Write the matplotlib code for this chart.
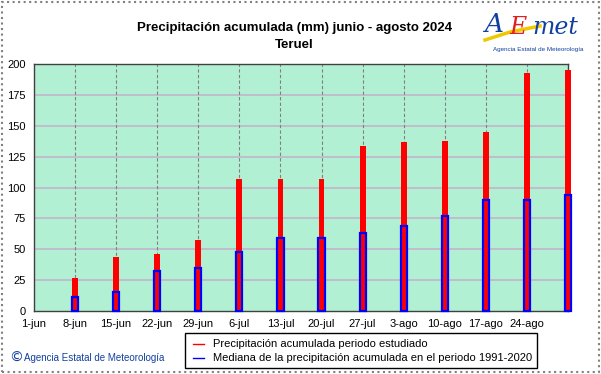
import matplotlib
matplotlib.use("Agg")
import matplotlib.pyplot as plt
from matplotlib.patches import Rectangle
from matplotlib.lines import Line2D
import numpy as np

plt.rcParams['font.family'] = ['Liberation Sans', 'DejaVu Sans']

tick_labels = ['1-jun', '8-jun', '15-jun', '22-jun', '29-jun', '6-jul', '13-jul',
               '20-jul', '27-jul', '3-ago', '10-ago', '17-ago', '24-ago']
bar_days = [7, 14, 21, 28, 35, 42, 49, 56, 63, 70, 77, 84, 91]
precip_2024 = [27, 43.5, 46, 57.5, 106.5, 106.5, 106.5, 133.5, 136.5, 138, 145, 193, 195]
median_1991_2020 = [11, 15.5, 32, 35, 48, 59.5, 59.5, 63.5, 68.5, 77, 89.5, 89.5, 94]

fig = plt.figure(figsize=(6.01, 3.74), dpi=100)
fig.patch.set_facecolor('white')
ax = fig.add_axes([34/601, 1-311/374, (568-34)/601, (311-64)/374])
ax.set_facecolor('#b2f0d4')

ax.set_xlim(0, 91)
ax.set_ylim(0, 200)
ax.set_yticks(np.arange(0, 201, 25))
ax.set_xticks(np.arange(len(tick_labels)) * 7)
ax.set_xticklabels(tick_labels, fontsize=8)
ax.tick_params(axis='y', labelsize=8, length=0, pad=6)
ax.tick_params(axis='x', length=0, pad=6)

for y in np.arange(25, 200, 25):
    ax.axhline(y, color='#c4b4cc', lw=1.2, zorder=1)
for x in np.arange(1, len(tick_labels)) * 7:
    ax.axvline(x, color='#808080', lw=0.8, ls=(0, (3, 2)), zorder=1)

red = ax.bar(bar_days, precip_2024, width=1.0, color='#ff0000', zorder=3)
blue = ax.bar(bar_days, median_1991_2020, width=1.05, facecolor='none',
              edgecolor='#0000ff', lw=1.6, zorder=4)
for p in list(red) + list(blue):
    p.set_clip_on(False)

for s in ax.spines.values():
    s.set_color('#404040')
    s.set_linewidth(1)

fig.text(0.49, 1-28/374, 'Precipitación acumulada (mm) junio - agosto 2024',
         ha='center', va='center', fontsize=9.5, fontweight='bold')
fig.text(0.49, 1-45/374, 'Teruel', ha='center', va='center', fontsize=9.5,
         fontweight='bold')

# logo approximation
fig.text(494/601, 1-25/374, 'A', color='#1040a0', fontsize=19, style='italic',
         ha='center', va='center', family='DejaVu Serif')
fig.text(518/601, 1-27/374, 'E', color='#e02020', fontsize=17, style='italic',
         ha='center', va='center', family='DejaVu Serif')
fig.text(555/601, 1-27/374, 'met', color='#1040a0', fontsize=17, style='italic',
         ha='center', va='center', family='DejaVu Serif')
fig.add_artist(Line2D([485/601, 510/601, 540/601], [1-40/374, 1-32/374, 1-26/374],
                      color='#f0c800', lw=2.5, transform=fig.transFigure, zorder=0))
fig.text(538/601, 1-49/374, 'Agencia Estatal de Meteorología', color='#1040a0',
         fontsize=4.5, ha='center', va='center')

# legend box
fig.add_artist(Rectangle((185/601, 1-368/374), (537-185)/601, (368-333)/374,
                         transform=fig.transFigure, facecolor='white',
                         edgecolor='black', lw=1))
fig.add_artist(Line2D([193/601, 204/601], [1-344/374, 1-344/374], color='#ff0000',
                      lw=1, transform=fig.transFigure))
fig.add_artist(Line2D([193/601, 204/601], [1-358/374, 1-358/374], color='#0000ff',
                      lw=1, transform=fig.transFigure))
fig.text(213/601, 1-344/374, 'Precipitación acumulada periodo estudiado',
         fontsize=8, va='center', ha='left')
fig.text(213/601, 1-358/374, 'Mediana de la precipitación acumulada en el periodo 1991-2020',
         fontsize=8, va='center', ha='left')

fig.text(9/601, 1-358/374, '©', color='#1040a0',
         fontsize=10, va='center', ha='left', family=['DejaVu Sans'])
fig.text(24/601, 1-358/374, 'Agencia Estatal de Meteorología', color='#1040a0',
         fontsize=7, va='center', ha='left')

# outer dotted border
fig.add_artist(Rectangle((2/601, 2/374), 597/601, 370/374, transform=fig.transFigure,
                         facecolor='none', edgecolor='#808080', lw=1.5, ls=':'))

fig.savefig('out.png', dpi=100)
